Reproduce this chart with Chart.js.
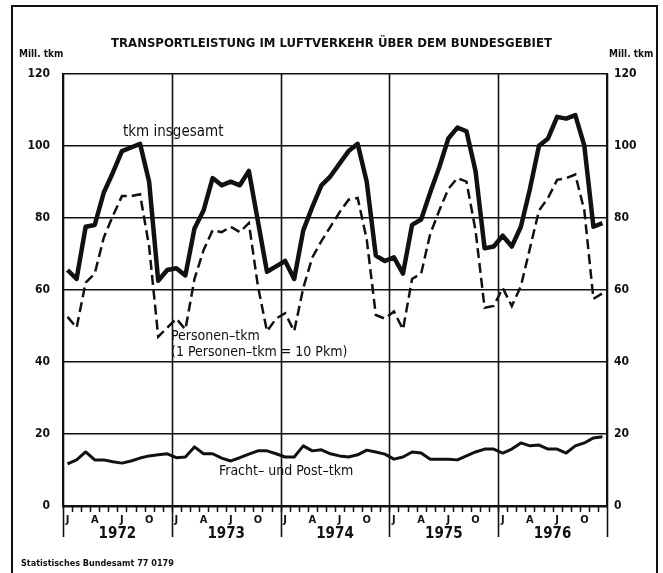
<!DOCTYPE html>
<html><head><meta charset="utf-8">
<script src="https://cdn.jsdelivr.net/npm/chart.js@4/dist/chart.umd.min.js"></script>
<style>html,body{margin:0;padding:0;background:#fff}canvas{display:block}</style>
</head><body>
<canvas id="c" width="663" height="573"></canvas>
<script>
const years = ['1972','1973','1974','1975','1976'];
const monthLetters = ['J','F','M','A','M','J','J','A','S','O','N','D'];
const shownMonths = ['J','','','A','','','J','','','O','',''];
const yTicks = [0,20,40,60,80,100,120];

const tkmInsgesamt = [
  65.5,63,77.5,78,87,92.5,98.5,99.5,100.5,90,62.5,65.5,
  66,64,77,82,91,89,90,89,93,79,65,66.5,
  68,63,76.5,83,89,91.5,95,98.5,100.5,90,69.5,68,
  69,64.5,78,79.5,87,94,102,105,104,93,71.5,72,
  75,72,77.5,88,100,102,108,107.5,108.5,100,77.5,78.5
];
const personenTkm = [
  52.5,49.5,62,64.5,74.5,80.5,86,86,86.5,72,47,49.5,
  52,49,63,71,76.5,76,77.5,76,78.5,61,48.5,52,
  53.5,48.5,60.5,69,73.5,77.5,81.5,85,85.5,74,53,52,
  54,49,63,64.5,75.5,82,88,91,90,76.5,55,55.5,
  60.5,55.5,61,71.5,82,85.5,90.5,91,92,82,57.5,59
];
const frachtPostTkm = [
  11.7,12.8,15,12.8,12.8,12.3,11.9,12.5,13.3,13.9,14.2,14.5,
  13.4,13.6,16.4,14.5,14.5,13.3,12.5,13.4,14.4,15.3,15.3,14.5,
  13.6,13.6,16.7,15.3,15.6,14.5,13.9,13.6,14.2,15.5,15,14.4,
  13,13.6,15,14.7,13,13,13,12.8,13.9,15,15.8,15.8,
  14.7,15.8,17.5,16.7,16.9,15.8,15.8,14.7,16.7,17.5,18.9,19.2
];

const categories = [];
years.forEach(y => monthLetters.forEach(m => categories.push(m + ' ' + y)));

const FONT = '"Liberation Sans Narrow","DejaVu Sans Condensed","Roboto",sans-serif';
const INK = '#111';

const deco = {
  id: 'deco',
  beforeDatasetsDraw(chart) {
    const ctx = chart.ctx, a = chart.chartArea;
    const n = categories.length, step = (a.right - a.left) / n;
    ctx.save();
    ctx.strokeStyle = INK;
    ctx.lineWidth = 1.6;
    for (let i = 0; i <= n; i += 12) {
      const px = Math.round(a.left + i * step) + 0.5;
      ctx.beginPath(); ctx.moveTo(px, a.top); ctx.lineTo(px, a.bottom + 31); ctx.stroke();
    }
    ctx.restore();
  },
  afterDraw(chart) {
    const ctx = chart.ctx, a = chart.chartArea, x = chart.scales.x;
    const n = categories.length, step = (a.right - a.left) / n;
    ctx.save();
    ctx.strokeStyle = INK; ctx.fillStyle = INK;
    ctx.lineWidth = 2;
    ctx.beginPath(); ctx.moveTo(12, 580); ctx.lineTo(12, 6); ctx.lineTo(657, 6); ctx.lineTo(657, 580); ctx.stroke();
    ctx.lineWidth = 1.5;
    for (let i = 1; i < n; i++) {
      const px = Math.round(a.left + i * step) + 0.5;
      ctx.beginPath(); ctx.moveTo(px, a.bottom); ctx.lineTo(px, a.bottom + 6); ctx.stroke();
    }
    ctx.font = 'bold 11px ' + FONT;
    ctx.textAlign = 'center'; ctx.textBaseline = 'middle';
    for (let i = 0; i < n; i++) {
      const t = shownMonths[i % 12];
      if (t) ctx.fillText(t, x.getPixelForValue(i), a.bottom + 14);
    }
    ctx.font = 'bold 15px ' + FONT;
    years.forEach((y, k) => {
      const px = a.left + (k * 12 + 6) * step;
      ctx.fillText(y, px, a.bottom + 28);
    });
    ctx.font = 'bold 10px ' + FONT;
    ctx.textAlign = 'left';
    ctx.fillText('Mill. tkm', 19, 54);
    ctx.fillText('Mill. tkm', 609, 54);
    ctx.font = '15px ' + FONT;
    ctx.fillText('tkm insgesamt', 123, 132);
    ctx.font = '14px ' + FONT;
    ctx.fillText('Personen\u2013tkm', 171, 336);
    ctx.fillText('(1 Personen\u2013tkm = 10 Pkm)', 171, 352);
    ctx.fillText('Fracht\u2013 und Post\u2013tkm', 219, 471);
    ctx.font = 'bold 9px ' + FONT;
    ctx.fillText('Statistisches Bundesamt 77 0179', 21, 564);
    ctx.restore();
  }
};

new Chart(document.getElementById('c'), {
  type: 'line',
  data: {
    labels: categories,
    datasets: [
      { label: 'tkm insgesamt', data: tkmInsgesamt, borderColor: INK, borderWidth: 4.5,
        pointRadius: 0, tension: 0, borderJoinStyle: 'round', yAxisID: 'y' },
      { label: 'Personen-tkm', data: personenTkm, borderColor: INK, borderWidth: 2.5,
        borderDash: [10, 5], pointRadius: 0, tension: 0, yAxisID: 'y' },
      { label: 'Fracht- und Post-tkm', data: frachtPostTkm, borderColor: INK, borderWidth: 3,
        pointRadius: 0, tension: 0, borderJoinStyle: 'round', yAxisID: 'y' }
    ]
  },
  options: {
    responsive: false, animation: false, devicePixelRatio: 1,
    layout: { padding: { top: 0, left: 0, right: 0, bottom: 0 } },
    plugins: {
      legend: { display: false },
      tooltip: { enabled: false },
      title: {
        display: true,
        text: 'TRANSPORTLEISTUNG IM LUFTVERKEHR ÜBER DEM BUNDESGEBIET',
        color: INK,
        font: { family: FONT, size: 13, weight: 'bold' },
        padding: { top: 36, bottom: 22 }
      }
    },
    scales: {
      x: {
        type: 'category', offset: true,
        grid: { display: false },
        border: { display: true, color: INK, width: 2.5 },
        ticks: { display: false },
        afterFit(s) { s.height = 67; }
      },
      y: {
        position: 'left', min: 0, max: 120,
        afterBuildTicks(s) { s.ticks = yTicks.map(v => ({ value: v })); },
        grid: { color: INK, lineWidth: 1.5, drawTicks: false },
        border: { display: true, color: INK, width: 2 },
        ticks: { color: INK, padding: 13, font: { family: FONT, size: 12, weight: 'bold' } },
        afterFit(s) { s.width = 63; }
      },
      y2: {
        position: 'right', min: 0, max: 120,
        afterBuildTicks(s) { s.ticks = yTicks.map(v => ({ value: v })); },
        grid: { display: false, drawTicks: false },
        border: { display: true, color: INK, width: 2 },
        ticks: { color: INK, padding: 7, font: { family: FONT, size: 12, weight: 'bold' } },
        afterFit(s) { s.width = 56; }
      }
    }
  },
  plugins: [deco]
});
</script>
</body></html>
